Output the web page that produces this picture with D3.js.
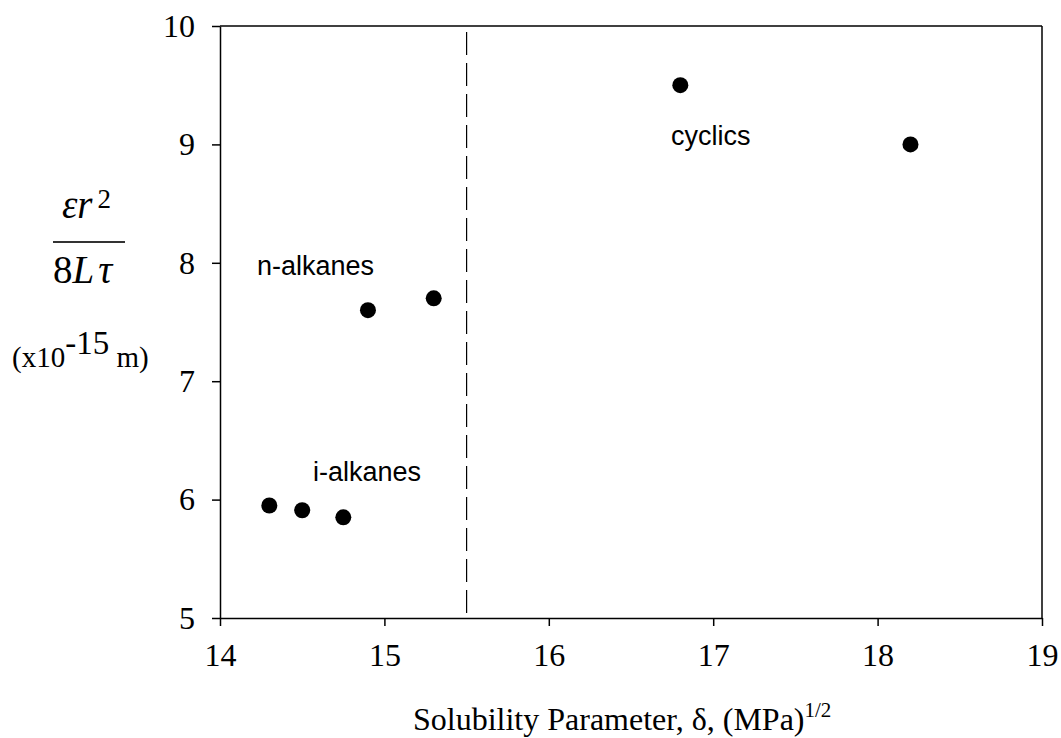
<!DOCTYPE html>
<html>
<head>
<meta charset="utf-8">
<script src="https://cdn.jsdelivr.net/npm/d3@7"></script>
<style>
  html, body { margin: 0; padding: 0; background: #fff; }
  svg { display: block; }
  .serif { font-family: "Liberation Serif", "Times New Roman", serif; }
  .sans { font-family: "Liberation Sans", Arial, sans-serif; }
</style>
</head>
<body>
<svg id="chart" width="1061" height="738"></svg>
<script>
// ---- data ----
const xValues = [14.3, 14.5, 14.75, 14.9, 15.3, 16.8, 18.2];
const yValues = [5.95, 5.91, 5.85, 7.6, 7.7, 9.5, 9.0];
const xTicks = [14, 15, 16, 17, 18, 19];
const yTicks = [5, 6, 7, 8, 9, 10];
const xDomain = [14, 19];
const yDomain = [5, 10];
const dividerX = 15.5;
const groupLabels = ["n-alkanes", "i-alkanes", "cyclics"];
const groupLabelX = [14.225, 14.566, 16.743];
const groupLabelY = [7.897, 6.157, 8.995];

// ---- layout ----
const mLeft = 220, mRight = 1042, mTop = 26, mBottom = 618;
const SERIF = '"Liberation Serif", "Times New Roman", serif';
const svg = d3.select("#chart");
const x = d3.scaleLinear().domain(xDomain).range([mLeft, mRight]);
const y = d3.scaleLinear().domain(yDomain).range([mBottom, mTop]);

// frame (top & right)
svg.append("line").attr("x1", mLeft).attr("x2", mRight).attr("y1", mTop).attr("y2", mTop)
  .attr("stroke", "#000").attr("stroke-width", 1.5);
svg.append("line").attr("x1", mRight).attr("x2", mRight).attr("y1", mTop).attr("y2", mBottom)
  .attr("stroke", "#000").attr("stroke-width", 1.5);

// axes
const xAxis = d3.axisBottom(x).tickValues(xTicks).tickFormat(d3.format("d"))
  .tickSize(8).tickSizeOuter(0).tickPadding(17);
const yAxis = d3.axisLeft(y).tickValues(yTicks).tickFormat(d3.format("d"))
  .tickSize(8).tickSizeOuter(0).tickPadding(17);

const gx = svg.append("g").attr("transform", `translate(0,${mBottom})`).call(xAxis);
const gy = svg.append("g").attr("transform", `translate(${mLeft},0)`).call(yAxis);
[gx, gy].forEach(g => {
  g.attr("font-family", SERIF).attr("font-size", 32);
  g.selectAll("path.domain").attr("stroke", "#000").attr("stroke-width", 1.5);
  g.selectAll(".tick line").attr("stroke", "#000").attr("stroke-width", 1.5);
  g.selectAll(".tick text").attr("fill", "#000")
    .style("font-family", SERIF).style("font-size", "32px");
});

// dashed divider
svg.append("line")
  .attr("x1", x(dividerX)).attr("x2", x(dividerX))
  .attr("y1", mTop + 6).attr("y2", mBottom)
  .attr("stroke", "#000").attr("stroke-width", 1.2)
  .attr("stroke-dasharray", "23,8");

// points
svg.append("g").selectAll("circle")
  .data(xValues.map((v, i) => [v, yValues[i]]))
  .join("circle")
  .attr("cx", d => x(d[0])).attr("cy", d => y(d[1]))
  .attr("r", 8).attr("fill", "#000");

// group labels
svg.append("g").selectAll("text")
  .data(groupLabels.map((t, i) => ({ t, gx: groupLabelX[i], gy: groupLabelY[i] })))
  .join("text")
  .attr("class", "sans")
  .attr("x", d => x(d.gx)).attr("y", d => y(d.gy))
  .style("font-size", "27px").attr("fill", "#000")
  .text(d => d.t);

// x axis title
const xt = svg.append("text").attr("class", "serif")
  .attr("x", 413).attr("y", 730).style("font-size", "32px").attr("fill", "#000");
xt.append("tspan").text("Solubility Parameter, δ, (MPa)");
xt.append("tspan").attr("dy", -13).style("font-size", "21px").text("1/2");

// y axis title: fraction
const num = svg.append("text").attr("class", "serif")
  .attr("x", 62).attr("y", 218).style("font-size", "39px").attr("fill", "#000");
num.append("tspan").style("font-style", "italic").text("εr");
num.append("tspan").attr("dy", -10).attr("dx", 5).style("font-size", "27px").text("2");

svg.append("line").attr("x1", 53).attr("x2", 125).attr("y1", 242).attr("y2", 242)
  .attr("stroke", "#333").attr("stroke-width", 2);

const den = svg.append("text").attr("class", "serif")
  .attr("x", 53).attr("y", 283).style("font-size", "39px").attr("fill", "#000");
den.append("tspan").text("8");
den.append("tspan").style("font-style", "italic").text("L");
den.append("tspan").style("font-style", "italic").attr("dx", 4).text("τ");

const unit = svg.append("text").attr("class", "serif")
  .attr("x", 12).attr("y", 367).style("font-size", "29px").attr("fill", "#000");
unit.append("tspan").text("(x10");
unit.append("tspan").attr("dy", -13).style("font-size", "33px").text("-15");
unit.append("tspan").attr("dy", 13).text(" m)");
</script>
</body>
</html>
